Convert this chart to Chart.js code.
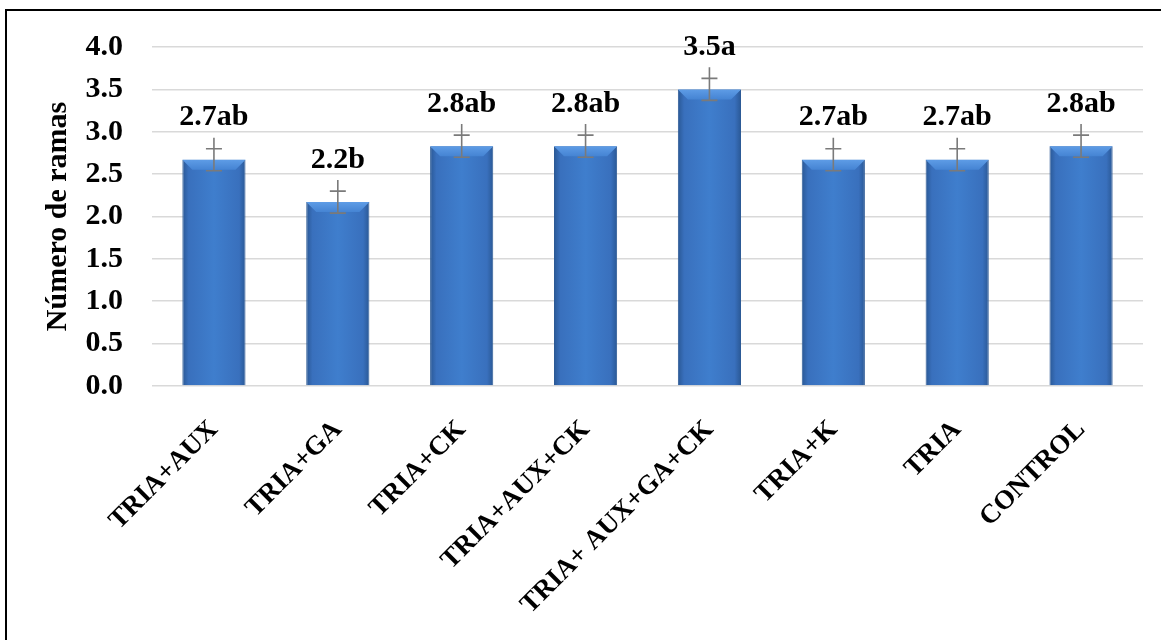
<!DOCTYPE html>
<html>
<head>
<meta charset="utf-8">
<script src="https://cdn.jsdelivr.net/npm/chart.js@4.4.1/dist/chart.umd.min.js"></script>
<style>
  html, body { margin: 0; padding: 0; background: #fff; }
  #wrap { position: relative; width: 1161px; height: 640px; overflow: hidden; }
  #frame {
    position: absolute; left: 5px; top: 9px; width: 1300px; height: 800px;
    border-left: 2px solid #000; border-top: 2px solid #000;
  }
  #chart { position: absolute; left: 0; top: 0; }
</style>
</head>
<body>
<div id="wrap">
  <div id="frame"></div>
  <canvas id="chart" width="1161" height="640"></canvas>
</div>
<script>
// Treatments and measured values
const categories = ['TRIA+AUX', 'TRIA+GA', 'TRIA+CK', 'TRIA+AUX+CK', 'TRIA+ AUX+GA+CK', 'TRIA+K', 'TRIA', 'CONTROL'];
const means = [2.67, 2.17, 2.83, 2.83, 3.5, 2.67, 2.67, 2.83];
const errors = [0.13, 0.13, 0.13, 0.13, 0.13, 0.13, 0.13, 0.13];
const valueLabels = ['2.7ab', '2.2b', '2.8ab', '2.8ab', '3.5a', '2.7ab', '2.7ab', '2.8ab'];
const yTicks = [0, 0.5, 1, 1.5, 2, 2.5, 3, 3.5, 4];

const SERIF = "'Liberation Serif', 'Times New Roman', serif";
const BAR_PCT = 0.51;

/**
 * Horizontal gradient per bar so the sides look darker (bevel look)
 */
function barFill(ctx) {
  const chart = ctx.chart;
  const area = chart.chartArea;
  if (!area) return '#3E7DCC';
  const cx = chart.scales.x.getPixelForValue(ctx.dataIndex);
  const w = area.width / categories.length * BAR_PCT;
  const g = chart.ctx.createLinearGradient(cx - w / 2, 0, cx + w / 2, 0);
  g.addColorStop(0, '#2A5895');
  g.addColorStop(0.1, '#3970BD');
  g.addColorStop(0.5, '#3F7ECD');
  g.addColorStop(0.9, '#3970BD');
  g.addColorStop(1, '#2A5895');
  return g;
}

// Draws the top bevel, the error bars and the value labels
const barExtras = {
  id: 'barExtras',
  afterDatasetsDraw(chart) {
    const { ctx, scales: { y } } = chart;
    const meta = chart.getDatasetMeta(0);
    ctx.save();
    meta.data.forEach((bar, i) => {
      const x = bar.x;
      const half = bar.width / 2;
      const top = bar.y;

      // top bevel
      const bh = 10;
      const g = ctx.createLinearGradient(0, top, 0, top + bh);
      g.addColorStop(0, '#5E9CE6');
      g.addColorStop(1, '#4584D3');
      ctx.fillStyle = g;
      ctx.beginPath();
      ctx.moveTo(x - half, top);
      ctx.lineTo(x + half, top);
      ctx.lineTo(x + half - bh, top + bh);
      ctx.lineTo(x - half + bh, top + bh);
      ctx.closePath();
      ctx.fill();

      // error bar
      const yLo = y.getPixelForValue(means[i] - errors[i]);
      const yHi = y.getPixelForValue(means[i] + errors[i]);
      const yLine = y.getPixelForValue(means[i] + 2 * errors[i]);
      ctx.strokeStyle = '#7A7A7A';
      ctx.lineWidth = 1.6;
      ctx.beginPath();
      ctx.moveTo(x, yLo);
      ctx.lineTo(x, yLine);
      ctx.moveTo(x - 8, yLo);
      ctx.lineTo(x + 8, yLo);
      ctx.moveTo(x - 8, yHi);
      ctx.lineTo(x + 8, yHi);
      ctx.stroke();

      // value label
      ctx.fillStyle = '#000';
      ctx.font = 'bold 30px ' + SERIF;
      ctx.textAlign = 'center';
      ctx.textBaseline = 'middle';
      ctx.fillText(valueLabels[i], x, y.getPixelForValue(means[i]) - 42);
    });
    ctx.restore();
  }
};

const chart = new Chart(document.getElementById('chart'), {
  type: 'bar',
  data: {
    labels: categories,
    datasets: [{
      data: means,
      backgroundColor: barFill,
      borderColor: '#2C5A96',
      borderWidth: 1,
      barPercentage: BAR_PCT,
      categoryPercentage: 1
    }]
  },
  options: {
    responsive: false,
    animation: false,
    layout: { padding: { top: 41, right: 18, bottom: 0, left: 0 } },
    plugins: {
      legend: { display: false },
      tooltip: { enabled: false }
    },
    scales: {
      x: {
        grid: { display: false },
        border: { display: false },
        ticks: {
          autoSkip: false,
          minRotation: 45,
          maxRotation: 45,
          padding: 20,
          color: '#000',
          font: { family: SERIF, size: 27, weight: 'bold' }
        },
        afterFit: (scale) => { scale.height = 254; }
      },
      y: {
        min: 0,
        max: 4,
        afterBuildTicks: (scale) => { scale.ticks = yTicks.map(v => ({ value: v })); },
        grid: { color: '#D9D9D9', lineWidth: 1.6, drawTicks: false },
        border: { display: false },
        ticks: {
          padding: 29,
          color: '#000',
          font: { family: SERIF, size: 30, weight: 'bold' },
          callback: (v) => Number(v).toFixed(1)
        },
        title: {
          display: true,
          text: 'Número de ramas',
          color: '#000',
          font: { family: SERIF, size: 30, weight: 'bold' },
          padding: { top: 40, bottom: 0 }
        },
        afterFit: (scale) => { scale.width = 152; }
      }
    }
  },
  plugins: [barExtras]
});
</script>
</body>
</html>
